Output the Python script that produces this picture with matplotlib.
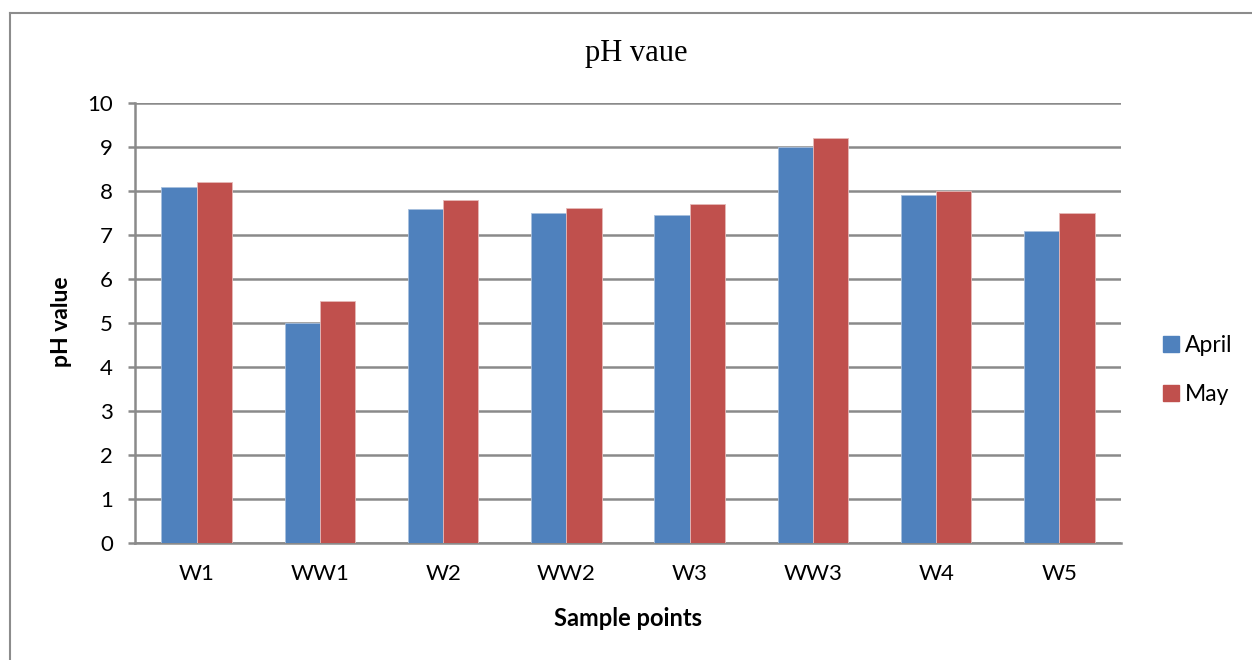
import numpy as np
import matplotlib
matplotlib.use("Agg")
import matplotlib.pyplot as plt
from matplotlib.lines import Line2D

# pH readings per sample point
points = ["W1", "WW1", "W2", "WW2", "W3", "WW3", "W4", "W5"]
april = [8.1, 5.0, 7.6, 7.5, 7.45, 9.0, 7.9, 7.1]
may = [8.2, 5.5, 7.8, 7.62, 7.7, 9.2, 8.0, 7.5]
y_ticks = [0, 1, 2, 3, 4, 5, 6, 7, 8, 9, 10]

blue = "#4F81BD"
red = "#C0504D"
grid_gray = "#8A8A8A"

W, H = 1252, 660
fig = plt.figure(figsize=(W / 100, H / 100), dpi=100)
ax = fig.add_axes([135 / W, 1 - 543 / H, (1121 - 135) / W, (543 - 103) / H])

x = np.arange(len(points))
bw = 0.2857
ax.bar(x - bw / 2, april, bw, color=blue, edgecolor="#A7BFDE", linewidth=0.6, label="April", zorder=3)
ax.bar(x + bw / 2, may, bw, color=red, edgecolor="#E6B9B8", linewidth=0.6, label="May", zorder=3)

ax.set_xlim(-0.5, len(points) - 0.5)
ax.set_ylim(0, 10)
ax.set_yticks(y_ticks)
ax.set_xticks(x)
ax.set_xticklabels(points)
ax.yaxis.grid(True, color=grid_gray, linewidth=1.8, zorder=0)
ax.set_axisbelow(True)

for s in ["top", "right"]:
    ax.spines[s].set_visible(False)
for s in ["left", "bottom"]:
    ax.spines[s].set_color(grid_gray)
    ax.spines[s].set_linewidth(1.8)

ax.tick_params(axis="y", length=5, width=1.8, color=grid_gray, pad=11, labelsize=16)
ax.tick_params(axis="x", length=0, pad=15, labelsize=16)
for lab in ax.get_xticklabels() + ax.get_yticklabels():
    lab.set_family("Lato")
    lab.set_color("black")

fig.text(636 / W, 1 - 53 / H, "pH vaue", ha="center", va="center",
         fontsize=22, family="Liberation Serif")
fig.text(62 / W, 1 - 322 / H, "pH value", ha="center", va="center", rotation=90,
         fontsize=16.5, fontweight="bold", family="Lato")
fig.text(628 / W, 1 - 618 / H, "Sample points", ha="center", va="center",
         fontsize=17, fontweight="bold", family="Lato")

leg = fig.legend(handles=[
    Line2D([], [], marker="s", linestyle="none", markersize=11, color=blue, label="April"),
    Line2D([], [], marker="s", linestyle="none", markersize=11, color=red, label="May")],
    loc="center left", bbox_to_anchor=(1157 / W, 1 - 370 / H), frameon=False,
    prop={"family": "Lato", "size": 16.5}, handletextpad=0.0, labelspacing=1.25,
    handlelength=1.2, borderaxespad=0, borderpad=0)

# chart-area border (only left and top edges fall inside the image)
fig.add_artist(Line2D([10 / W, 10 / W], [0, 1 - 13 / H], color="#8C8C8C", linewidth=1.5))
fig.add_artist(Line2D([10 / W, 1], [1 - 13 / H, 1 - 13 / H], color="#8C8C8C", linewidth=1.5))

fig.savefig("out.png", dpi=100, facecolor="white")
